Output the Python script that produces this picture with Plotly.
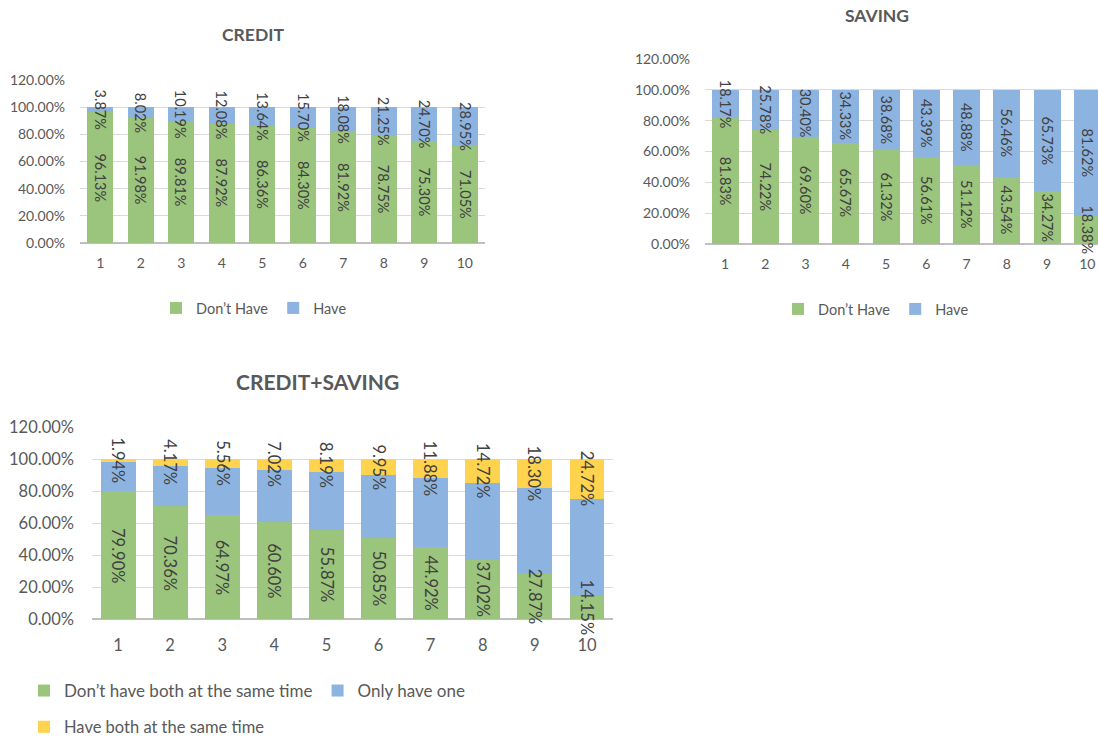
import plotly.graph_objects as go

groups = [1, 2, 3, 4, 5, 6, 7, 8, 9, 10]
group_labels = ["1", "2", "3", "4", "5", "6", "7", "8", "9", "10"]

credit_dont_have = [96.13, 91.98, 89.81, 87.92, 86.36, 84.30, 81.92, 78.75, 75.30, 71.05]
credit_have = [3.87, 8.02, 10.19, 12.08, 13.64, 15.70, 18.08, 21.25, 24.70, 28.95]

saving_dont_have = [81.83, 74.22, 69.60, 65.67, 61.32, 56.61, 51.12, 43.54, 34.27, 18.38]
saving_have = [18.17, 25.78, 30.40, 34.33, 38.68, 43.39, 48.88, 56.46, 65.73, 81.62]

both_dont_have = [79.90, 70.36, 64.97, 60.60, 55.87, 50.85, 44.92, 37.02, 27.87, 14.15]
both_only_one = [18.16, 25.47, 29.47, 32.38, 35.94, 39.20, 43.20, 48.26, 53.83, 61.13]
both_have = [1.94, 4.17, 5.56, 7.02, 8.19, 9.95, 11.88, 14.72, 18.30, 24.72]

GREEN = "#9BC47C"
BLUE = "#8DB4E0"
YELLOW = "#FFD34E"
FONT = "Lato"
TXT = "#404040"
AX = "#595959"

W, H = 1098, 738


def px_x(p):
    return p / W


def px_y(p):
    return (H - p) / H


fig = go.Figure()


def add_stack(series, xa, ya, width, size):
    """series: list of (values, name, color, legend, labelled)"""
    base = [0.0] * len(groups)
    for vals, name, color, leg, labelled in series:
        fig.add_trace(go.Bar(
            x=groups, y=vals, name=name,
            marker=dict(color=color, line=dict(width=0)),
            width=width, textposition="none",
            xaxis=xa, yaxis=ya, legend=leg, showlegend=True,
            hoverinfo="skip",
        ))
        if labelled:
            for g, b, v in zip(groups, base, vals):
                fig.add_annotation(
                    x=g, y=b + v / 2, xref=xa, yref=ya,
                    text=f"{v:.2f}%", textangle=90, showarrow=False,
                    xanchor="center", yanchor="middle",
                    font=dict(family=FONT, size=size, color=TXT),
                )
        base = [b + v for b, v in zip(base, vals)]


add_stack([
    (credit_dont_have, "Don’t Have", GREEN, "legend", True),
    (credit_have, "Have", BLUE, "legend", True),
], "x", "y", 0.65, 14.5)

add_stack([
    (saving_dont_have, "Don’t Have", GREEN, "legend2", True),
    (saving_have, "Have", BLUE, "legend2", True),
], "x2", "y2", 0.67, 14.5)

add_stack([
    (both_dont_have, "Don’t have both at the same time", GREEN, "legend3", True),
    (both_only_one, "Only have one", BLUE, "legend3", False),
    (both_have, "Have both at the same time", YELLOW, "legend4", True),
], "x3", "y3", 0.67, 16.5)


def yaxis(dom, size, standoff):
    return dict(
        domain=dom, range=[0, 120], dtick=20, tickformat=".2f", ticksuffix="%",
        showgrid=True, gridcolor="#D9D9D9", gridwidth=1,
        zeroline=True, zerolinecolor="#BFBFBF", zerolinewidth=1.5,
        showline=False, ticks="", ticklabelstandoff=standoff,
        tickfont=dict(family=FONT, size=size, color=AX), fixedrange=True,
    )


def xaxis(dom, rng, anchor, size, standoff):
    return dict(
        domain=dom, range=rng, anchor=anchor, tickvals=groups, ticktext=group_labels,
        showgrid=False, zeroline=False, showline=False, ticks="",
        ticklabelstandoff=standoff,
        tickfont=dict(family=FONT, size=size, color=AX), fixedrange=True,
    )


def legend(xx, yy, size, anchor="center"):
    return dict(orientation="h", x=px_x(xx), xanchor=anchor, y=px_y(yy), yanchor="middle",
                font=dict(family=FONT, size=size, color=AX), itemwidth=30,
                traceorder="normal", bgcolor="rgba(0,0,0,0)")


fig.update_layout(
    width=W, height=H, margin=dict(l=0, r=0, t=0, b=0, autoexpand=False),
    paper_bgcolor="white", plot_bgcolor="white",
    barmode="stack",
    font=dict(family=FONT, color=AX),
    xaxis=xaxis([px_x(80), px_x(485)], [0.5, 10.5], "y", 14, 10),
    yaxis=yaxis([px_y(243), px_y(80)], 14, 14),
    xaxis2=xaxis([px_x(705), 1.0], [0.5, 0.5 + 393 / 40.25], "y2", 14, 10),
    yaxis2=dict(yaxis([px_y(244), px_y(59)], 14, 14), anchor="x2"),
    xaxis3=xaxis([px_x(92), px_x(613)], [0.5, 10.5], "y3", 16.5, 14),
    yaxis3=dict(yaxis([px_y(619), px_y(427)], 16.5, 17), anchor="x3"),
    legend=legend(254, 308, 14.5),
    legend2=legend(876, 309, 14.5),
    legend3=legend(24, 691, 17, "left"),
    legend4=legend(24, 727, 16.5, "left"),
    showlegend=True,
)

titles = [("CREDIT", 253, 35, 17.5), ("SAVING", 877, 15, 17.5), ("CREDIT+SAVING", 317, 381, 21)]
for t, xx, yy, s in titles:
    fig.add_annotation(text=f"<b>{t}</b>", x=px_x(xx), y=px_y(yy), xref="paper", yref="paper",
                       xanchor="center", yanchor="middle", showarrow=False,
                       font=dict(family=FONT, size=s, color=AX))

fig.write_html(
    "out.html",
    config={"displayModeBar": False},
    post_script="document.body.style.margin='0';document.body.style.overflow='hidden';",
)
